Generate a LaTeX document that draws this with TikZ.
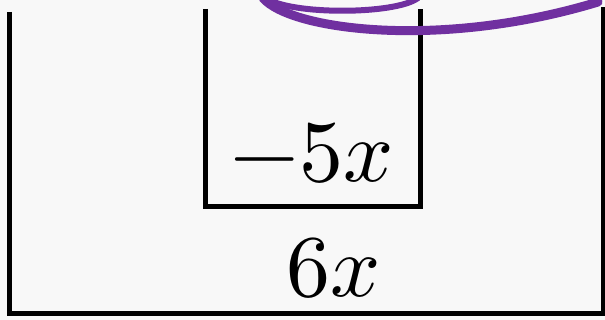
\documentclass[tikz,border=0pt]{standalone}
\usepackage{unicode-math}
\setmathfont{Latin Modern Math}
\usetikzlibrary{positioning}
\definecolor{cpurple}{HTML}{7030A0}
\definecolor{cpaper}{HTML}{F8F8F8}
\tikzset{
  wall/.style={draw=black, line width=5pt},
  loop/.style={draw=cpurple, line width=#1, line cap=round},
  loop/.default=9pt,
  term/.style={inner sep=0pt, font=\fontsize{88}{88}\selectfont},
}

\begin{document}
\begin{tikzpicture}[x=1pt, y=-1pt]
  \fill[cpaper] (0,0) rectangle (605,320);
  \useasboundingbox (0,0) rectangle (605,320);
  % outer bracket
  \draw[wall] (9,12) -- (9,314) -- (603,314) -- (603,7);
  % inner bracket
  \draw[wall] (205,9) -- (205,207) -- (420,207) -- (420,9);
  \node[term] (inner) at (312,153) {$-5x$};
  \node[term] (outer) at (334,268) {$6x$};
  % loop arrows
  \begin{scope}
    \clip (0,0) rectangle (605,320);
    \draw[loop=6pt] (266,-2) .. controls (290,15) and (395,15) .. (418,-2);
    \draw[loop] (263,-2) .. controls (290,30) and (440,50) .. (598,2);
  \end{scope}
\end{tikzpicture}
\end{document}
